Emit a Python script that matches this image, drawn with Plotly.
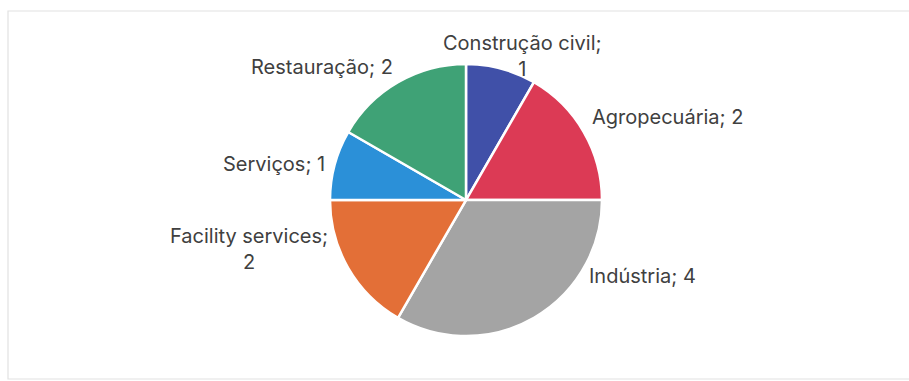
import plotly.graph_objects as go

# Number of companies per sector
sectors = ["Construção civil", "Agropecuária", "Indústria",
           "Facility services", "Serviços", "Restauração"]
counts = [1, 2, 4, 2, 1, 2]
colors = ["#4050A8", "#DC3A55", "#A4A4A4", "#E36F37", "#2B90D8", "#3FA276"]

# Where each data label sits (pixel x, pixel y of its centre line, anchor)
# and whether the label wraps its value onto a second line.
label_layout = [
    (522, 56, "center", True),
    (590, 117, "left", False),
    (587, 276, "left", False),
    (330, 249, "right", True),
    (327, 164, "right", False),
    (395, 67, "right", False),
]

W, H = 909, 381
cx, cy, r = 466, 200, 136
FONT = dict(family="Inter, Lato, sans-serif", size=20, color="#404040")

fig = go.Figure(go.Pie(
    labels=sectors,
    values=counts,
    textinfo="none",
    sort=False,
    direction="clockwise",
    rotation=0,
    marker=dict(colors=colors, line=dict(color="white", width=2.5)),
    showlegend=False,
    hoverinfo="label+value",
    domain=dict(x=[(cx - r) / W, (cx + r) / W],
                y=[1 - (cy + r) / H, 1 - (cy - r) / H]),
))

# data labels: "<sector>; <count>"
for name, val, (px, py, anchor, wrap) in zip(sectors, counts, label_layout):
    sep = ";<br>" if wrap else "; "
    fig.add_annotation(
        xref="paper", yref="paper",
        x=px / W, y=1 - py / H,
        xanchor=anchor, yanchor="middle",
        align="center",
        text=f"{name}{sep}{val}",
        showarrow=False,
        font=FONT,
    )

# light frame around the chart area
fig.add_shape(type="rect", xref="paper", yref="paper",
              x0=8 / W, x1=1.01, y0=1 - 379 / H, y1=1 - 11 / H,
              line=dict(color="#E2E2E2", width=1.2), fillcolor="rgba(0,0,0,0)")

fig.update_layout(
    width=W, height=H,
    margin=dict(l=0, r=0, t=0, b=0),
    paper_bgcolor="white",
    plot_bgcolor="white",
)

fig.write_html("out.html")
